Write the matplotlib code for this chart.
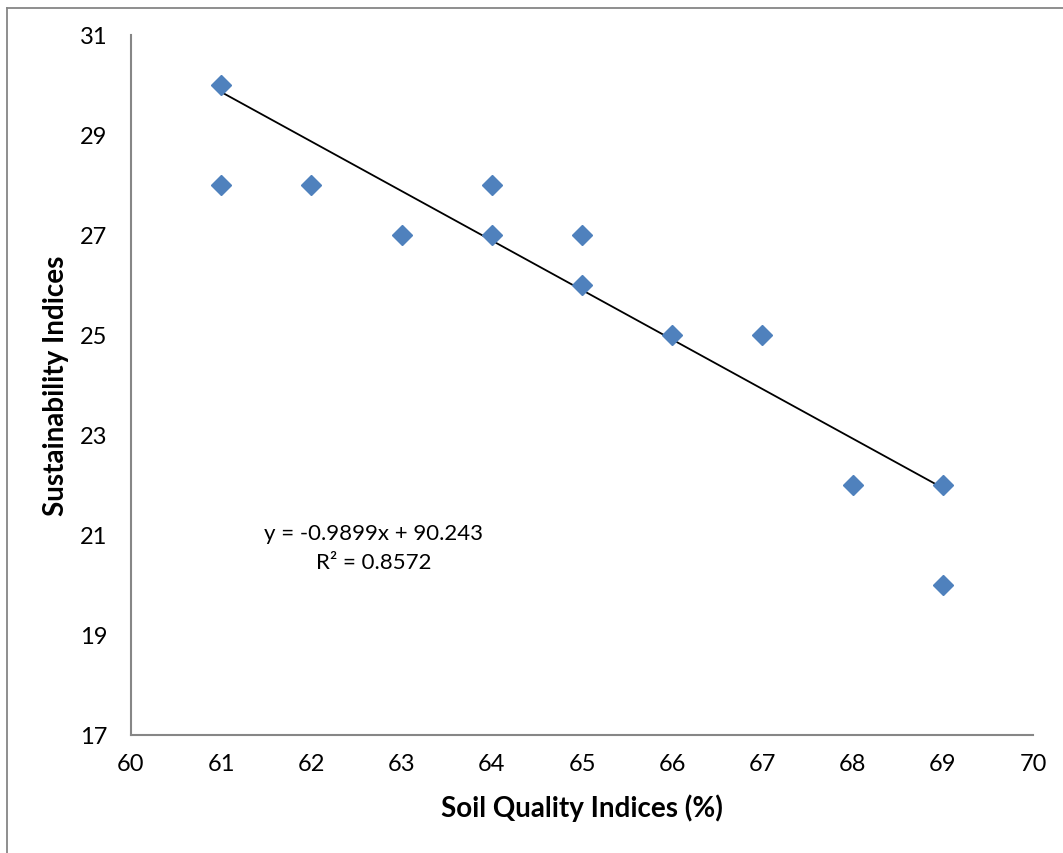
import numpy as np
import matplotlib
matplotlib.use('Agg')
import matplotlib.pyplot as plt
from matplotlib.lines import Line2D

plt.rcParams['font.family'] = ['Lato', 'DejaVu Sans']

# data
soil_quality = [61, 61, 62, 63, 64, 64, 65, 65, 66, 67, 68, 69, 69]
sustainability = [30, 28, 28, 27, 28, 27, 27, 26, 25, 25, 22, 22, 20]
slope = -0.9899
intercept = 90.243
r_squared = 0.8572

marker_color = '#4F81BD'
axis_color = '#868686'

W, H = 1063, 854
fig = plt.figure(figsize=(W / 100, H / 100), dpi=100, facecolor='white')
ax = fig.add_axes([131 / W, 1 - 736 / H, (1033 - 131) / W, (736 - 36) / H])

# Trend line
tx = np.array([min(soil_quality), max(soil_quality)])
ax.plot(tx, slope * tx + intercept, color='black', linewidth=1.3, zorder=2)

# Points
ax.plot(soil_quality, sustainability, linestyle='none', marker='D',
        markersize=10, color=marker_color, zorder=3)

ax.text(62.69, 21.04, 'y = {}x + {}'.format(slope, intercept), ha='center', va='center', fontsize=16)
ax.text(62.69, 20.46, 'R² = {}'.format(r_squared), ha='center', va='center', fontsize=16)

ax.set_xlim(60, 70)
ax.set_ylim(17, 31)
ax.set_xticks(np.arange(60, 71, 1))
ax.set_yticks(np.arange(17, 32, 2))
ax.tick_params(axis='both', length=0, labelsize=17, colors='black')
ax.tick_params(axis='x', pad=13)
ax.tick_params(axis='y', pad=17)

for side in ['top', 'right']:
    ax.spines[side].set_visible(False)
for side in ['left', 'bottom']:
    ax.spines[side].set_color(axis_color)
    ax.spines[side].set_linewidth(1.5)

ax.set_xlabel('Soil Quality Indices (%)', fontsize=20, fontweight='bold', labelpad=14)
ax.set_ylabel('Sustainability Indices', fontsize=20, fontweight='bold', labelpad=8)

# Outer chart border
fig.add_artist(Line2D([7 / W, 7 / W], [0, 1 - 9 / H], transform=fig.transFigure, color=axis_color, linewidth=1.3))
fig.add_artist(Line2D([7 / W, 1], [1 - 9 / H, 1 - 9 / H], transform=fig.transFigure, color=axis_color, linewidth=1.3))

fig.savefig('out.png', dpi=100)
